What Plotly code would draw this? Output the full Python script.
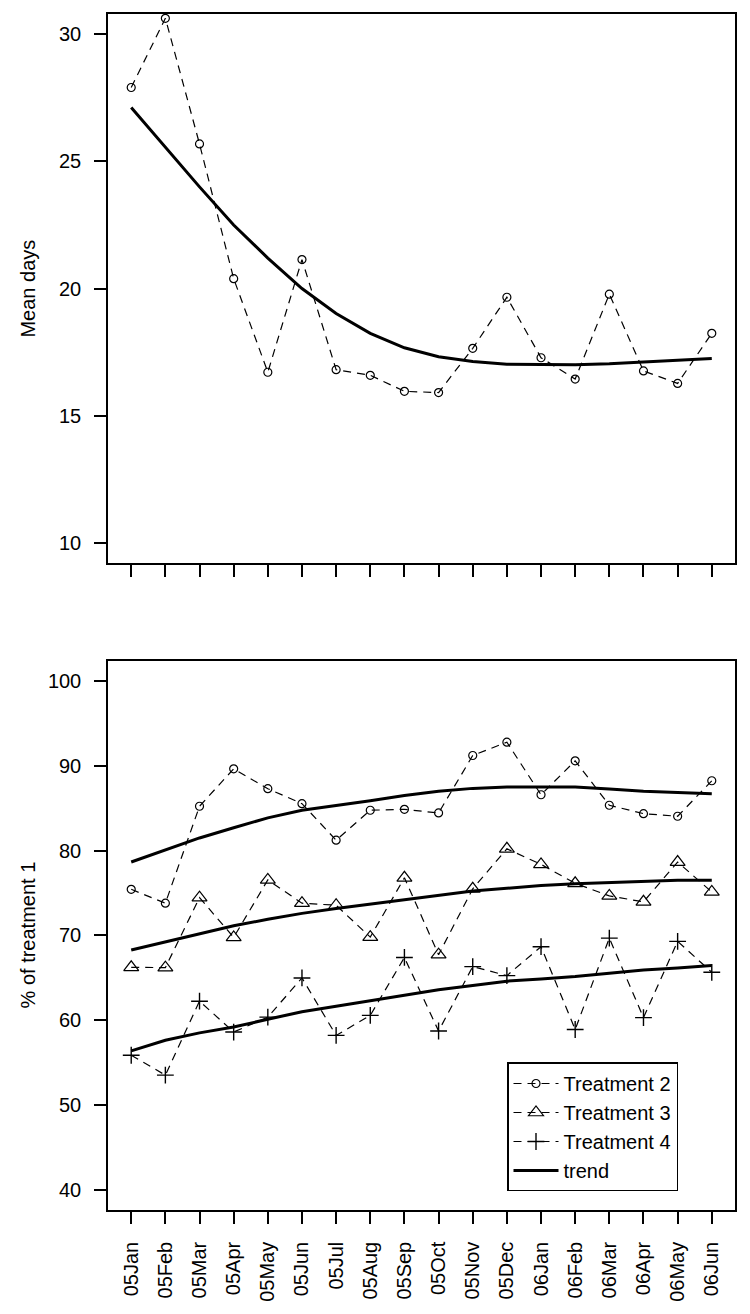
import plotly.graph_objects as go

months = ["05Jan", "05Feb", "05Mar", "05Apr", "05May", "05Jun", "05Jul", "05Aug", "05Sep",
          "05Oct", "05Nov", "05Dec", "06Jan", "06Feb", "06Mar", "06Apr", "06May", "06Jun"]
xpos = list(range(1, len(months) + 1))

mean_days = [27.91, 30.63, 25.69, 20.39, 16.71, 21.14, 16.81, 16.59, 15.96,
             15.91, 17.65, 19.66, 17.28, 16.44, 19.78, 16.76, 16.27, 18.24]
mean_days_trend = [27.12, 25.55, 24.0, 22.5, 21.2, 20.0, 19.02, 18.24, 17.67,
                   17.32, 17.13, 17.02, 17.0, 17.0, 17.04, 17.11, 17.2, 17.25]

treat2 = [75.44, 73.8, 85.24, 89.66, 87.31, 85.55, 81.24, 84.77, 84.88,
          84.45, 91.23, 92.8, 86.6, 90.6, 85.36, 84.37, 84.06, 88.25]
treat2_trend = [78.66, 80.05, 81.5, 82.7, 83.87, 84.77, 85.3, 85.9, 86.5,
                87.0, 87.35, 87.5, 87.5, 87.5, 87.27, 87.0, 86.85, 86.72]

treat3 = [66.24, 66.2, 74.46, 69.77, 76.55, 73.8, 73.56, 69.8, 76.8,
          67.73, 75.5, 80.22, 78.38, 76.15, 74.66, 73.96, 78.66, 75.13]
treat3_trend = [68.27, 69.25, 70.2, 71.14, 71.9, 72.6, 73.17, 73.68, 74.2,
                74.74, 75.25, 75.56, 75.88, 76.1, 76.23, 76.34, 76.5, 76.5]

treat4 = [55.86, 53.51, 62.24, 58.6, 60.36, 64.98, 58.2, 60.56, 67.4,
          58.72, 66.32, 65.26, 68.67, 58.9, 69.68, 60.3, 69.3, 65.65]
treat4_trend = [56.37, 57.63, 58.5, 59.2, 60.1, 61.0, 61.65, 62.3, 62.98,
                63.6, 64.1, 64.6, 64.87, 65.15, 65.54, 65.93, 66.16, 66.45]

top_yticks = [10, 15, 20, 25, 30]
bottom_yticks = [40, 50, 60, 70, 80, 90, 100]

FONT = "Liberation Sans, Arial, sans-serif"
DASH = "8px,6px"
DLW = 1.2
TLW = 3

fig = go.Figure()

marker_line = dict(color="black", width=1.2)

# Top panel
fig.add_trace(go.Scatter(x=xpos, y=mean_days, mode="lines+markers", xaxis="x", yaxis="y",
                         line=dict(color="black", width=DLW, dash=DASH),
                         marker=dict(symbol="circle-open", size=8, color="black", line=marker_line),
                         showlegend=False))
fig.add_trace(go.Scatter(x=xpos, y=mean_days_trend, mode="lines", xaxis="x", yaxis="y",
                         line=dict(color="black", width=TLW), showlegend=False))

# Bottom panel
fig.add_trace(go.Scatter(x=xpos, y=treat2, mode="lines+markers", xaxis="x2", yaxis="y2",
                         name="Treatment 2",
                         line=dict(color="black", width=DLW, dash=DASH),
                         marker=dict(symbol="circle-open", size=8, color="black", line=marker_line)))
fig.add_trace(go.Scatter(x=xpos, y=treat3, mode="lines+markers", xaxis="x2", yaxis="y2",
                         name="Treatment 3",
                         line=dict(color="black", width=DLW, dash=DASH),
                         marker=dict(symbol="triangle-up-open", size=13, color="black", line=marker_line)))
fig.add_trace(go.Scatter(x=xpos, y=treat4, mode="lines+markers", xaxis="x2", yaxis="y2",
                         name="Treatment 4",
                         line=dict(color="black", width=DLW, dash=DASH),
                         marker=dict(symbol="cross-thin-open", size=12, color="black",
                                     line=dict(color="black", width=1.4))))
fig.add_trace(go.Scatter(x=xpos, y=treat2_trend, mode="lines", xaxis="x2", yaxis="y2",
                         name="trend", line=dict(color="black", width=TLW)))
fig.add_trace(go.Scatter(x=xpos, y=treat3_trend, mode="lines", xaxis="x2", yaxis="y2",
                         line=dict(color="black", width=TLW), showlegend=False))
fig.add_trace(go.Scatter(x=xpos, y=treat4_trend, mode="lines", xaxis="x2", yaxis="y2",
                         line=dict(color="black", width=TLW), showlegend=False))

common_axis = dict(showline=True, mirror=True, linecolor="black", linewidth=1.5,
                   ticks="outside", ticklen=12, tickwidth=1.5, tickcolor="black",
                   showgrid=False, zeroline=False,
                   tickfont=dict(family=FONT, size=20, color="black"))

top_dom = [(1214 - 565) / 1200, 1.0]
bot_dom = [0.0, (1214 - 663) / 1200]

fig.update_layout(
    width=750, height=1314,
    margin=dict(l=108, r=15, t=14, b=100),
    paper_bgcolor="white", plot_bgcolor="white",
    font=dict(family=FONT, size=20, color="black"),
    xaxis=dict(domain=[0, 1], anchor="y", range=[0.32, 18.68], tickvals=xpos,
               showticklabels=False, **common_axis),
    yaxis=dict(domain=top_dom, anchor="x", range=[9.2, 30.8], tickvals=top_yticks,
               ticklabelstandoff=9, **common_axis),
    xaxis2=dict(domain=[0, 1], anchor="y2", range=[0.32, 18.68], tickvals=xpos,
                ticktext=months, tickangle=-90, ticklabelstandoff=10, **common_axis),
    yaxis2=dict(domain=bot_dom, anchor="x2", range=[37.6, 102.4], tickvals=bottom_yticks,
                ticklabelstandoff=9, **common_axis),
    legend=dict(x=(507 - 108) / 627, y=(1214 - 1066) / 1200, xanchor="left", yanchor="top",
                bordercolor="black", borderwidth=1.5, bgcolor="white",
                font=dict(family=FONT, size=20, color="black"), itemwidth=45),
    annotations=[
        dict(text="Mean days", xref="paper", yref="paper", x=0, xshift=-80,
             y=(top_dom[0] + top_dom[1]) / 2, textangle=-90, showarrow=False,
             xanchor="center", yanchor="middle", font=dict(family=FONT, size=20, color="black")),
        dict(text="% of treatment 1", xref="paper", yref="paper", x=0, xshift=-80,
             y=(bot_dom[0] + bot_dom[1]) / 2, textangle=-90, showarrow=False,
             xanchor="center", yanchor="middle", font=dict(family=FONT, size=20, color="black")),
    ],
)

fig.write_html("out.html", config={"displayModeBar": False},
               post_script="document.body.style.margin='0';")
